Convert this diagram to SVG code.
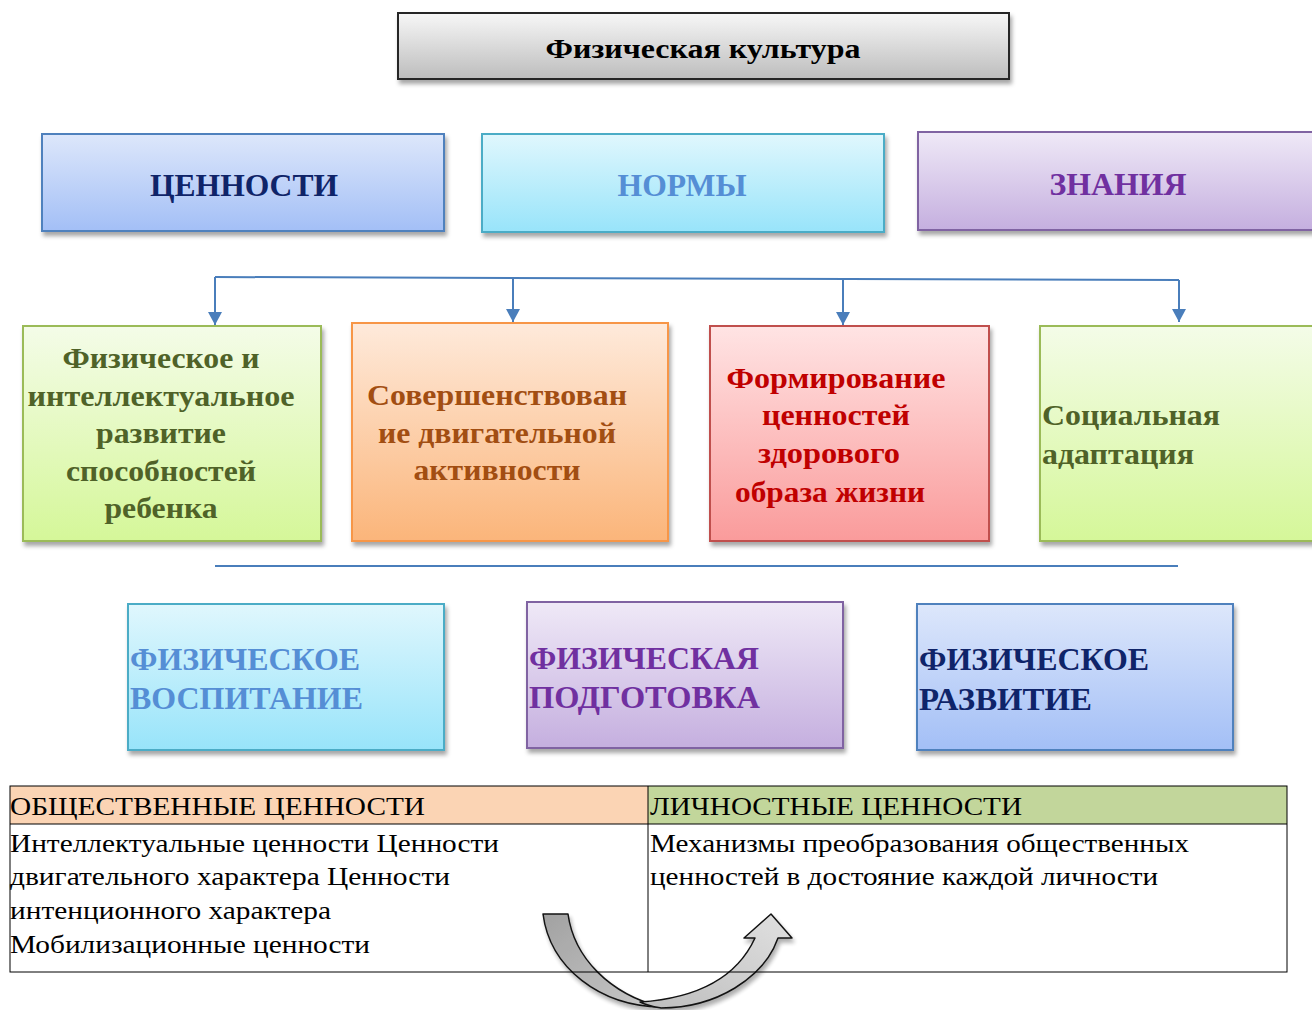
<svg xmlns="http://www.w3.org/2000/svg" width="1312" height="1010" viewBox="0 0 1312 1010">
<style>
.b{font-family:"Liberation Serif","Times New Roman",serif;font-weight:bold;}
.r{font-family:"Liberation Serif","Times New Roman",serif;font-size:26px;fill:#000;}
.box{stroke-width:2;filter:url(#sh);}
.conn{stroke:#4a7ebb;stroke-width:2;fill:none;}
.tl{stroke:#000;stroke-width:1;fill:none;}
</style>
<defs>
<filter id="sh" x="-5%" y="-5%" width="115%" height="125%">
<feDropShadow dx="2" dy="4" stdDeviation="2" flood-color="#000" flood-opacity="0.35"/>
</filter>
<linearGradient id="gGray" x1="0" y1="0" x2="0" y2="1"><stop offset="0" stop-color="#f7f7f7"/><stop offset="1" stop-color="#bdbdbd"/></linearGradient>
<linearGradient id="gBlue" x1="0" y1="0" x2="0" y2="1"><stop offset="0" stop-color="#dde7fb"/><stop offset="1" stop-color="#a3bff6"/></linearGradient>
<linearGradient id="gCyan" x1="0" y1="0" x2="0" y2="1"><stop offset="0" stop-color="#e0f7fd"/><stop offset="1" stop-color="#98e4fa"/></linearGradient>
<linearGradient id="gPurple" x1="0" y1="0" x2="0" y2="1"><stop offset="0" stop-color="#efe9f7"/><stop offset="1" stop-color="#c5afdf"/></linearGradient>
<linearGradient id="gGreen" x1="0" y1="0" x2="0" y2="1"><stop offset="0" stop-color="#f4fce8"/><stop offset="1" stop-color="#d5f799"/></linearGradient>
<linearGradient id="gOrange" x1="0" y1="0" x2="0" y2="1"><stop offset="0" stop-color="#feeadb"/><stop offset="1" stop-color="#fbb57a"/></linearGradient>
<linearGradient id="gRed" x1="0" y1="0" x2="0" y2="1"><stop offset="0" stop-color="#ffe4e4"/><stop offset="1" stop-color="#fa9b9b"/></linearGradient>
<linearGradient id="gArrL" x1="0" y1="0" x2="1" y2="1"><stop offset="0" stop-color="#9a9a9a"/><stop offset="1" stop-color="#c4c4c4"/></linearGradient>
<linearGradient id="gArrR" x1="0" y1="1" x2="1" y2="0"><stop offset="0" stop-color="#b8b8b8"/><stop offset="1" stop-color="#dedede"/></linearGradient>
<marker id="ah" markerWidth="14" markerHeight="12" refX="7" refY="12" orient="auto-start-reverse" markerUnits="userSpaceOnUse" viewBox="0 0 14 12">
<path d="M0,0 L14,0 L7,12 Z" fill="#4a7ebb" transform="rotate(-90 7 6)"/>
</marker>
<marker id="ad" markerWidth="14" markerHeight="13" refX="7" refY="13" markerUnits="userSpaceOnUse" viewBox="0 0 14 13">
<path d="M0,0 L14,0 L7,13 Z" fill="#4a7ebb"/>
</marker>
</defs>
<rect width="1312" height="1010" fill="#fff"/>

<g id="title">
<rect class="box" x="398" y="13" width="611" height="66" fill="url(#gGray)" stroke="#262626"/>
<text class="b" x="703" y="58" font-size="28" text-anchor="middle" textLength="315" lengthAdjust="spacingAndGlyphs" fill="#000">Физическая культура</text>
</g>

<g id="values">
<rect class="box" x="42" y="134" width="402" height="97" fill="url(#gBlue)" stroke="#4f81bd"/>
<text class="b" x="244" y="196" font-size="32" text-anchor="middle" textLength="188" lengthAdjust="spacingAndGlyphs" fill="#0f2469">ЦЕННОСТИ</text>
</g>
<g id="norms">
<rect class="box" x="482" y="134" width="402" height="98" fill="url(#gCyan)" stroke="#4bacc6"/>
<text class="b" x="682" y="196" font-size="32" text-anchor="middle" textLength="129" lengthAdjust="spacingAndGlyphs" fill="#558ed5">НОРМЫ</text>
</g>
<g id="knowledge">
<rect class="box" x="918" y="132" width="410" height="98" fill="url(#gPurple)" stroke="#8064a2"/>
<text class="b" x="1118" y="195" font-size="32" text-anchor="middle" textLength="137" lengthAdjust="spacingAndGlyphs" fill="#7030a0">ЗНАНИЯ</text>
</g>

<g id="connectors">
<path class="conn" d="M215,277 L1179,280"/>
<line class="conn" x1="215" y1="277" x2="215" y2="325" marker-end="url(#ad)"/>
<line class="conn" x1="513" y1="278" x2="513" y2="322" marker-end="url(#ad)"/>
<line class="conn" x1="843" y1="279" x2="843" y2="325" marker-end="url(#ad)"/>
<line class="conn" x1="1179" y1="280" x2="1179" y2="322" marker-end="url(#ad)"/>
<line class="conn" x1="215" y1="566" x2="1178" y2="566"/>
</g>

<g id="physical-intellectual">
<rect class="box" x="23" y="326" width="298" height="215" fill="url(#gGreen)" stroke="#9bbb59"/>
<g class="b" font-size="30" fill="#4f6228" text-anchor="middle">
<text x="161" y="368" textLength="197" lengthAdjust="spacingAndGlyphs">Физическое и</text>
<text x="161" y="406" textLength="267" lengthAdjust="spacingAndGlyphs">интеллектуальное</text>
<text x="161" y="443" textLength="130" lengthAdjust="spacingAndGlyphs">развитие</text>
<text x="161" y="481" textLength="190" lengthAdjust="spacingAndGlyphs">способностей</text>
<text x="161" y="518" textLength="113" lengthAdjust="spacingAndGlyphs">ребенка</text>
</g>
</g>
<g id="motor">
<rect class="box" x="352" y="323" width="316" height="218" fill="url(#gOrange)" stroke="#f79646"/>
<g class="b" font-size="30" fill="#a24e12" text-anchor="middle">
<text x="497" y="405" textLength="260" lengthAdjust="spacingAndGlyphs">Совершенствован</text>
<text x="497" y="443" textLength="238" lengthAdjust="spacingAndGlyphs">ие двигательной</text>
<text x="497" y="480" textLength="167" lengthAdjust="spacingAndGlyphs">активности</text>
</g>
</g>
<g id="healthy">
<rect class="box" x="710" y="326" width="279" height="215" fill="url(#gRed)" stroke="#c0504d"/>
<g class="b" font-size="30" fill="#c00000" text-anchor="middle">
<text x="836" y="388" textLength="219" lengthAdjust="spacingAndGlyphs">Формирование</text>
<text x="836" y="425" textLength="148" lengthAdjust="spacingAndGlyphs">ценностей</text>
<text x="829" y="463" textLength="142" lengthAdjust="spacingAndGlyphs">здорового</text>
<text x="830" y="502" textLength="190" lengthAdjust="spacingAndGlyphs">образа жизни</text>
</g>
</g>
<g id="social">
<rect class="box" x="1040" y="326" width="300" height="215" fill="url(#gGreen)" stroke="#9bbb59"/>
<g class="b" font-size="30" fill="#4f6228">
<text x="1042" y="425" textLength="178" lengthAdjust="spacingAndGlyphs">Социальная</text>
<text x="1042" y="464" textLength="152" lengthAdjust="spacingAndGlyphs">адаптация</text>
</g>
</g>

<g id="phys-education">
<rect class="box" x="128" y="604" width="316" height="146" fill="url(#gCyan)" stroke="#4bacc6"/>
<g class="b" font-size="32" fill="#558ed5">
<text x="130" y="670" textLength="230" lengthAdjust="spacingAndGlyphs">ФИЗИЧЕСКОЕ</text>
<text x="130" y="709" textLength="233" lengthAdjust="spacingAndGlyphs">ВОСПИТАНИЕ</text>
</g>
</g>
<g id="phys-training">
<rect class="box" x="527" y="602" width="316" height="146" fill="url(#gPurple)" stroke="#8064a2"/>
<g class="b" font-size="32" fill="#7030a0">
<text x="529" y="669" textLength="230" lengthAdjust="spacingAndGlyphs">ФИЗИЧЕСКАЯ</text>
<text x="529" y="708" textLength="231" lengthAdjust="spacingAndGlyphs">ПОДГОТОВКА</text>
</g>
</g>
<g id="phys-development">
<rect class="box" x="917" y="604" width="316" height="146" fill="url(#gBlue)" stroke="#4f81bd"/>
<g class="b" font-size="32" fill="#0f2469">
<text x="919" y="670" textLength="230" lengthAdjust="spacingAndGlyphs">ФИЗИЧЕСКОЕ</text>
<text x="919" y="710" textLength="173" lengthAdjust="spacingAndGlyphs">РАЗВИТИЕ</text>
</g>
</g>

<g id="table">
<rect x="10" y="786" width="638" height="38" fill="#fbd4b4"/>
<rect x="648" y="786" width="639" height="38" fill="#c2d69b"/>
<text class="r" x="10" y="815" textLength="415" lengthAdjust="spacingAndGlyphs">ОБЩЕСТВЕННЫЕ ЦЕННОСТИ</text>
<text class="r" x="650" y="815" textLength="372" lengthAdjust="spacingAndGlyphs">ЛИЧНОСТНЫЕ ЦЕННОСТИ</text>
<text class="r" x="10" y="852" textLength="489" lengthAdjust="spacingAndGlyphs">Интеллектуальные ценности Ценности</text>
<text class="r" x="10" y="885" textLength="440" lengthAdjust="spacingAndGlyphs">двигательного характера Ценности</text>
<text class="r" x="10" y="919" textLength="321" lengthAdjust="spacingAndGlyphs">интенционного характера</text>
<text class="r" x="10" y="953" textLength="360" lengthAdjust="spacingAndGlyphs">Мобилизационные ценности</text>
<text class="r" x="650" y="852" textLength="539" lengthAdjust="spacingAndGlyphs">Механизмы преобразования общественных</text>
<text class="r" x="650" y="885" textLength="508" lengthAdjust="spacingAndGlyphs">ценностей в достояние каждой личности</text>
</g>

<g id="curved-arrow" stroke="#000" stroke-width="1.5" stroke-linejoin="round" opacity="0.92" filter="url(#sh)">
<path d="M543,914 L568,914 C574,958 610,994 661,1007 C600,1006 550,968 543,914 Z" fill="url(#gArrL)"/>
<path d="M661,1008 C716,1008 764,978 778,938 L792,938 L771,914 L744,938 L755,938 C738,975 700,998 640,1002 C648,1006 655,1007 661,1008 Z" fill="url(#gArrR)"/>
</g>

<g id="table-lines">
<rect class="tl" x="10" y="786" width="1277" height="186"/>
<line class="tl" x1="10" y1="824" x2="1287" y2="824"/>
<line class="tl" x1="648" y1="786" x2="648" y2="972"/>
</g>
</svg>
